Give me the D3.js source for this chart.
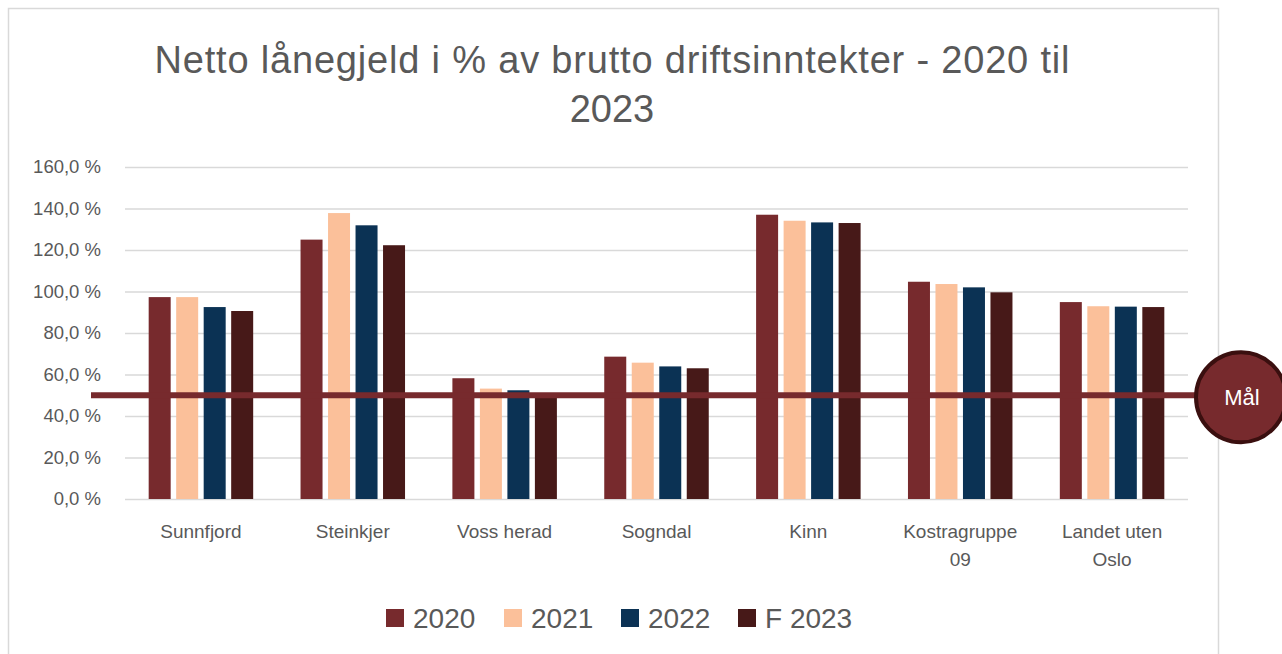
<!DOCTYPE html>
<html><head><meta charset="utf-8">
<script src="https://cdn.jsdelivr.net/npm/d3@7"></script>
<style>body{margin:0;background:#fff}svg{display:block}text{font-family:"Liberation Sans",Arial,sans-serif}</style>
</head><body><svg id="c" width="1282" height="654"></svg>
<script>
const categories = [["Sunnfjord"],["Steinkjer"],["Voss herad"],["Sogndal"],["Kinn"],["Kostragruppe","09"],["Landet uten","Oslo"]];
const seriesNames = ["2020","2021","2022","F 2023"];
const v2020 = [97.3,125.0,58.2,68.6,137.0,104.7,94.9];
const v2021 = [97.3,137.8,53.2,65.7,134.1,103.6,92.9];
const v2022 = [92.5,131.9,52.4,63.9,133.3,102.0,92.7];
const vF2023 = [90.6,122.3,49.5,63.0,133.0,99.6,92.5];
const yTicks = [0,20,40,60,80,100,120,140,160];
const goal = 50;
const colors = ["#772a2d","#fbc09a","#0b3254","#471918"];
const series = [v2020,v2021,v2022,vF2023];

const svg = d3.select("#c");
// frame
svg.append("path").attr("d","M8.5,654 V8.5 H1218.5 V654").attr("fill","none").attr("stroke","#d9d9d9").attr("stroke-width",1.5);

// title
const title = svg.append("text").attr("x",612).attr("text-anchor","middle").attr("fill","#595959").attr("font-size",38);
title.append("tspan").attr("x",612).attr("y",73).attr("textLength",915).attr("lengthAdjust","spacing").text("Netto lånegjeld i % av brutto driftsinntekter - 2020 til");
title.append("tspan").attr("x",612).attr("y",122).text("2023");

const x0 = d3.scaleBand().domain(d3.range(categories.length)).range([125,1188]);
const y = d3.scaleLinear().domain([0,160]).range([499,167]);

// grid
svg.append("g").selectAll("line").data(yTicks).join("line")
  .attr("x1",125).attr("x2",1188).attr("y1",d=>y(d)+0.5).attr("y2",d=>y(d)+0.5)
  .attr("stroke","#d9d9d9").attr("stroke-width",1.5);

// y labels
const yAxis = d3.axisLeft(y).tickValues(yTicks).tickSize(0).tickPadding(0)
  .tickFormat(d=>d3.format(".1f")(d).replace(".",",")+" %");
const ga = svg.append("g").attr("transform","translate(101,0)").call(yAxis);
ga.select(".domain").remove();
ga.selectAll("text").attr("fill","#595959").attr("font-size",18.5).attr("font-family","Liberation Sans, Arial, sans-serif");

// bars
const bw = 22, step = 27.5;
series.forEach((s,si)=>{
  svg.append("g").selectAll("rect").data(s).join("rect")
    .attr("x",(d,i)=>x0(i)+x0.bandwidth()/2 - (step*1.5+bw/2) + si*step)
    .attr("y",d=>y(d)).attr("width",bw).attr("height",d=>y(0)-y(d))
    .attr("fill",colors[si]);
});

// x labels
categories.forEach((c,i)=>{
  const t = svg.append("text").attr("text-anchor","middle").attr("fill","#595959").attr("font-size",19);
  c.forEach((l,li)=>t.append("tspan").attr("x",x0(i)+x0.bandwidth()/2).attr("y",538+li*28).text(l));
});

// goal line
svg.append("line").attr("x1",91).attr("x2",1200).attr("y1",y(goal)).attr("y2",y(goal))
  .attr("stroke","#772a2d").attr("stroke-width",6);
svg.append("circle").attr("cx",1241).attr("cy",y(goal)+2).attr("r",45)
  .attr("fill","#772a2d").attr("stroke","#3a0f0f").attr("stroke-width",4);
svg.append("text").attr("x",1242).attr("y",y(goal)+10).attr("text-anchor","middle")
  .attr("fill","#fff").attr("font-size",22).text("Mål");

// legend
const lx = [386,504,621,738];
seriesNames.forEach((n,i)=>{
  svg.append("rect").attr("x",lx[i]).attr("y",609).attr("width",18).attr("height",18).attr("fill",colors[i]);
  svg.append("text").attr("x",lx[i]+27).attr("y",628).attr("fill","#595959").attr("font-size",28).text(n);
});
</script></body></html>
